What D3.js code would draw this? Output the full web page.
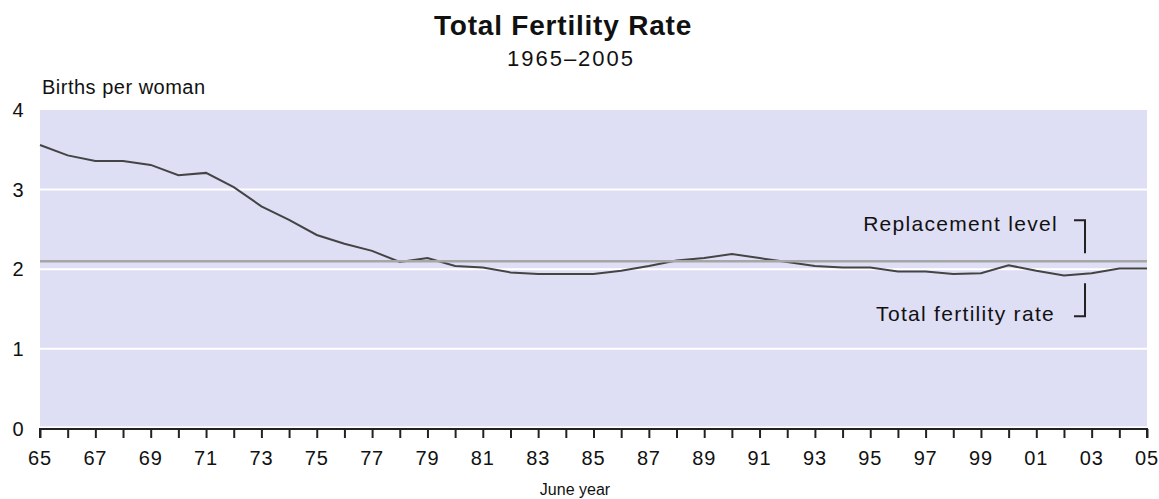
<!DOCTYPE html>
<html>
<head>
<meta charset="utf-8">
<script src="https://cdn.jsdelivr.net/npm/d3@7"></script>
<style>
  body { margin: 0; background: #fff; }
  text { font-family: "Liberation Sans", Arial, sans-serif; fill: #111; }
</style>
</head>
<body>
<svg id="mainsvg" width="1159" height="499"></svg>
<script>
// data
const years = d3.range(1965, 2006);
const tfr = [3.56, 3.43, 3.36, 3.36, 3.31, 3.18, 3.21, 3.03, 2.79, 2.62,
             2.43, 2.32, 2.23, 2.09, 2.14, 2.04, 2.02, 1.96, 1.94, 1.94,
             1.94, 1.98, 2.04, 2.11, 2.14, 2.19, 2.14, 2.09, 2.04, 2.02,
             2.02, 1.97, 1.97, 1.94, 1.95, 2.05, 1.98, 1.92, 1.95, 2.01,
             2.01];
const yTicks = [0, 1, 2, 3, 4];
const labelYears = years.filter(d => d % 2 === 1);
const replacementLevel = 2.1;

const svg = d3.select('#mainsvg');
const width = +svg.attr('width');
const height = +svg.attr('height');
const margin = {top: 110, right: 12, bottom: 70.6, left: 40};
const innerWidth = width - margin.left - margin.right;
const innerHeight = height - margin.top - margin.bottom;

const xScale = d3.scaleLinear()
    .domain([1965, 2005])
    .range([0, innerWidth]);

const yScale = d3.scaleLinear()
    .domain([0, 4])
    .range([innerHeight, 0]);

const g = svg.append('g').attr('id', 'maingroup')
    .attr('transform', `translate(${margin.left}, ${margin.top})`);

// plot background
g.append('rect')
    .attr('x', 0).attr('y', 0)
    .attr('width', innerWidth)
    .attr('height', innerHeight - 2)
    .attr('fill', '#dedef5');

// gridlines
g.selectAll('.grid')
    .data(yTicks.filter(d => d > 0 && d < 4))
    .enter().append('line')
    .attr('x1', 0).attr('x2', innerWidth)
    .attr('y1', d => yScale(d)).attr('y2', d => yScale(d))
    .attr('stroke', '#ffffff')
    .attr('stroke-width', 2);

// y labels
g.selectAll('.ylab')
    .data(yTicks)
    .enter().append('text')
    .attr('x', -22)
    .attr('y', d => yScale(d))
    .attr('dy', '0.36em')
    .attr('text-anchor', 'middle')
    .attr('font-size', '20px')
    .text(d => d);

// fertility line
const line = d3.line()
    .x((d, i) => xScale(years[i]))
    .y(d => yScale(d));

g.append('path')
    .datum(tfr)
    .attr('d', line)
    .attr('fill', 'none')
    .attr('stroke', '#444')
    .attr('stroke-width', 2);

// replacement level
g.append('line')
    .attr('x1', 0).attr('x2', innerWidth)
    .attr('y1', yScale(replacementLevel)).attr('y2', yScale(replacementLevel))
    .attr('stroke', '#a6a6a6')
    .attr('stroke-width', 2.5);

// x axis: a tick every year, labels on odd years
const xAxis = d3.axisBottom(xScale)
    .tickValues(years)
    .tickSize(9)
    .tickFormat('');
const xAxisG = g.append('g')
    .attr('transform', `translate(0, ${innerHeight + 0.6})`)
    .call(xAxis);
xAxisG.select('.domain').attr('stroke', '#222').attr('stroke-width', 2)
    .attr('d', `M0,9V0H${innerWidth}V9`);
xAxisG.selectAll('.tick line').attr('stroke', '#222').attr('stroke-width', 2);
xAxisG.selectAll('.tick text').remove();

g.selectAll('.xlab')
    .data(labelYears)
    .enter().append('text')
    .attr('class', 'xlab')
    .attr('x', d => xScale(d))
    .attr('y', innerHeight + 37)
    .attr('text-anchor', 'middle')
    .attr('font-size', '20px')
    .attr('letter-spacing', '0.8px')
    .text(d => String(d).slice(2));

// annotations
const ann = g.append('g');
const bx = xScale(2002.76);
const ry = yScale(replacementLevel);
ann.append('text')
    .attr('x', bx - 27).attr('y', ry - 30)
    .attr('text-anchor', 'end')
    .attr('font-size', '21px')
    .attr('letter-spacing', '1.3px')
    .text('Replacement level');
ann.append('path')
    .attr('d', `M${bx - 11},${ry - 41}H${bx}V${ry - 8}`)
    .attr('fill', 'none').attr('stroke', '#222').attr('stroke-width', 2);
ann.append('text')
    .attr('x', bx - 30).attr('y', ry + 60)
    .attr('text-anchor', 'end')
    .attr('font-size', '21px')
    .attr('letter-spacing', '1.3px')
    .text('Total fertility rate');
ann.append('path')
    .attr('d', `M${bx},${ry + 22}V${ry + 55}H${bx - 11}`)
    .attr('fill', 'none').attr('stroke', '#222').attr('stroke-width', 2);

// titles
svg.append('text')
    .attr('x', 563).attr('y', 35)
    .attr('text-anchor', 'middle')
    .attr('font-size', '28px')
    .attr('font-weight', 'bold')
    .attr('letter-spacing', '0.8px')
    .text('Total Fertility Rate');
svg.append('text')
    .attr('x', 571).attr('y', 66)
    .attr('text-anchor', 'middle')
    .attr('font-size', '22px')
    .attr('letter-spacing', '2px')
    .text('1965–2005');
svg.append('text')
    .attr('x', 42).attr('y', 94)
    .attr('font-size', '20px')
    .attr('letter-spacing', '0.5px')
    .text('Births per woman');
svg.append('text')
    .attr('x', 575).attr('y', 495)
    .attr('text-anchor', 'middle')
    .attr('font-size', '16px')
    .text('June year');
</script>
</body>
</html>
